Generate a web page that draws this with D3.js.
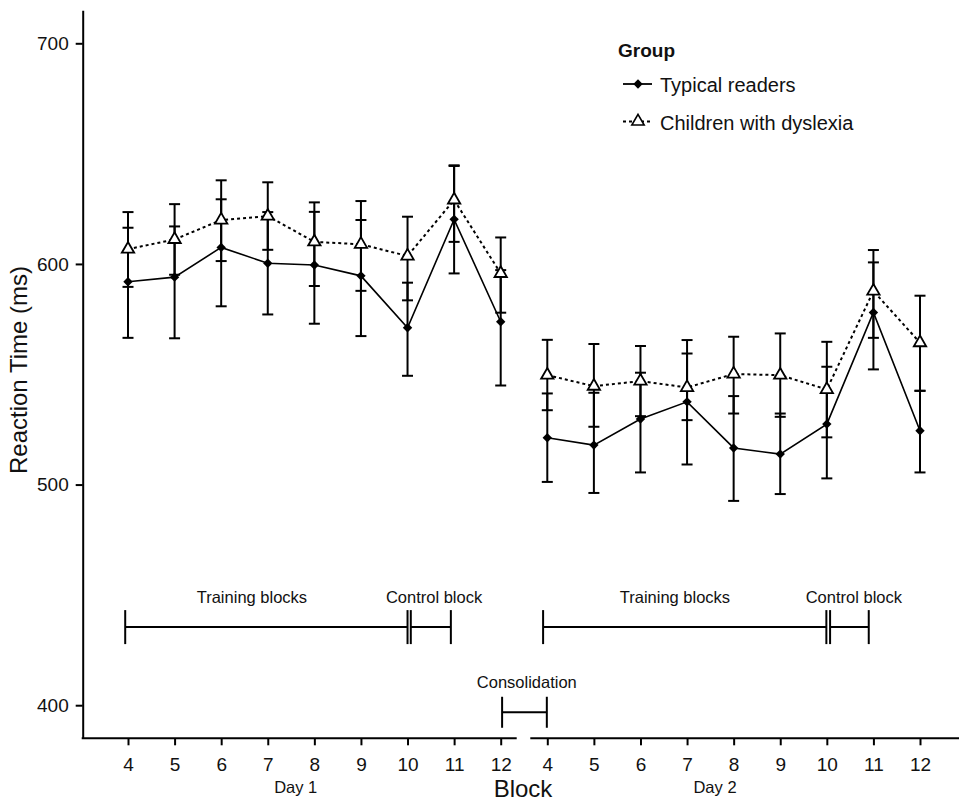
<!DOCTYPE html>
<html>
<head>
<meta charset="utf-8">
<script src="https://cdn.jsdelivr.net/npm/d3@7"></script>
<style>
  body { margin: 0; background: #fff; }
  svg { display: block; font-family: "Liberation Sans", Arial, sans-serif; }
</style>
</head>
<body>
<div id="chart"></div>
<script>
// Reaction time per block, two training days (block index 0..17 = Day 1 blocks 4-12, Day 2 blocks 4-12)
const blockLabels = ['4', '5', '6', '7', '8', '9', '10', '11', '12', '4', '5', '6', '7', '8', '9', '10', '11', '12'];
const dayOfBlock = [1, 1, 1, 1, 1, 1, 1, 1, 1, 2, 2, 2, 2, 2, 2, 2, 2, 2];

// Typical readers: mean, lower and upper error bar ends (ms)
const readersMean = [591.9, 594.0, 607.5, 600.3, 599.5, 594.6, 571.1, 620.2, 573.8,
                     521.2, 517.9, 529.7, 537.5, 516.6, 513.8, 527.4, 578.0, 524.4];
const readersLow  = [566.5, 566.3, 580.8, 577.1, 572.9, 567.3, 549.3, 595.7, 544.9,
                     501.2, 496.2, 505.5, 509.1, 492.6, 495.7, 502.8, 552.2, 505.5];
const readersHigh = [616.4, 617.0, 629.3, 623.5, 623.6, 619.9, 591.5, 644.7, 597.2,
                     541.3, 541.6, 550.7, 565.5, 540.1, 532.2, 553.4, 600.7, 542.5];

// Children with dyslexia
const dyslexiaMean = [606.7, 611.1, 619.9, 621.7, 610.0, 608.9, 603.6, 629.0, 595.7,
                      549.6, 544.6, 546.9, 544.0, 550.1, 549.6, 543.1, 587.7, 564.3];
const dyslexiaLow  = [589.6, 595.1, 601.3, 606.4, 590.0, 587.8, 583.5, 610.0, 577.9,
                      533.7, 526.2, 531.0, 529.2, 532.2, 530.7, 521.4, 566.5, 542.5];
const dyslexiaHigh = [623.5, 627.1, 637.9, 637.0, 627.9, 628.5, 621.4, 644.4, 612.0,
                      565.6, 563.7, 562.8, 559.4, 567.0, 568.5, 564.7, 606.3, 585.6];

const yTicks = [400, 500, 600, 700];

// Phase brackets (block index units, ms)
const bracketNames = ['Training blocks', 'Control block', 'Training blocks', 'Control block', 'Consolidation'];
const bracketStart = [-0.06, 6.07, 8.91, 15.07, 8.03];
const bracketEnd   = [6.0, 6.93, 14.99, 15.9, 8.99];
const bracketLevel = [435.4, 435.4, 435.4, 435.4, 396.8];
const bracketLabelAt = [2.66, 6.57, 11.74, 15.58, 8.56];

const dayNames = ['Day 1', 'Day 2'];
const dayCenter = [3.6, 12.6];

const width = 959, height = 802;

const svg = d3.select('#chart').append('svg')
  .attr('width', width)
  .attr('height', height);

const x = d3.scaleLinear().domain([0, 17]).range([128, 920]);
const y = d3.scaleLinear().domain([385, 715]).range([738.3, 10.2]);
const axisX = 82.7;

// Y axis
const yAxis = svg.append('g')
  .attr('transform', `translate(${axisX},0)`)
  .call(d3.axisLeft(y).tickValues(yTicks).tickSize(7).tickPadding(7).tickSizeOuter(0));
yAxis.select('.domain').attr('stroke', '#000').attr('stroke-width', 2);
yAxis.selectAll('.tick line').attr('stroke', '#000').attr('stroke-width', 2);
yAxis.selectAll('.tick text')
  .attr('font-size', '19px')
  .attr('font-family', '"Liberation Sans", Arial, sans-serif')
  .attr('fill', '#111');

// X axis (broken between the two days)
const xAxis = svg.append('g')
  .attr('transform', `translate(0,${y(385)})`)
  .call(d3.axisBottom(x).tickValues(d3.range(blockLabels.length))
    .tickFormat(i => blockLabels[i]).tickSize(7).tickPadding(12).tickSizeOuter(0));
xAxis.select('.domain').remove();
xAxis.selectAll('.tick line').attr('stroke', '#000').attr('stroke-width', 2);
xAxis.selectAll('.tick text')
  .attr('font-size', '19px')
  .attr('font-family', '"Liberation Sans", Arial, sans-serif')
  .attr('fill', '#111');

const gapL = x(8) + 16, gapR = x(9) - 17;
[[axisX - 1, gapL], [gapR, width]].forEach(([a, b]) => {
  svg.append('line')
    .attr('x1', a).attr('x2', b)
    .attr('y1', y(385)).attr('y2', y(385))
    .attr('stroke', '#000').attr('stroke-width', 2);
});

// Day labels and axis titles
dayNames.forEach((d, i) => {
  svg.append('text')
    .attr('x', x(dayCenter[i])).attr('y', 793)
    .attr('text-anchor', 'middle')
    .attr('font-size', '16.5px')
    .attr('fill', '#111')
    .text(d);
});

svg.append('text')
  .attr('x', 523).attr('y', 797)
  .attr('text-anchor', 'middle')
  .attr('font-size', '24px')
  .attr('fill', '#111')
  .text('Block');

svg.append('text')
  .attr('transform', 'translate(27,370) rotate(-90)')
  .attr('text-anchor', 'middle')
  .attr('font-size', '24px')
  .attr('fill', '#111')
  .text('Reaction Time (ms)');

// Phase brackets
bracketNames.forEach((name, i) => {
  const g = svg.append('g').attr('stroke', '#000').attr('stroke-width', 2);
  const by = y(bracketLevel[i]);
  const half = i === 4 ? 15.5 : 17;
  g.append('line').attr('x1', x(bracketStart[i])).attr('x2', x(bracketEnd[i]))
    .attr('y1', by).attr('y2', by);
  [bracketStart[i], bracketEnd[i]].forEach(v => {
    g.append('line').attr('x1', x(v)).attr('x2', x(v))
      .attr('y1', by - half).attr('y2', by + half);
  });
  svg.append('text')
    .attr('x', x(bracketLabelAt[i]))
    .attr('y', by - 24)
    .attr('text-anchor', 'middle')
    .attr('font-size', '16.5px')
    .attr('fill', '#111')
    .text(name);
});

// Series
const series = [
  { key: 'readers', mean: readersMean, low: readersLow, high: readersHigh, dash: null, width: 1.6 },
  { key: 'dyslexia', mean: dyslexiaMean, low: dyslexiaLow, high: dyslexiaHigh, dash: '3,3', width: 2 }
];

const capW = 5.5;
series.forEach(s => {
  const pts = s.mean.map((m, i) => ({ i, m, lo: s.low[i], hi: s.high[i], day: dayOfBlock[i] }));

  // error bars
  const eb = svg.append('g').attr('stroke', '#000').attr('stroke-width', 2);
  pts.forEach(p => {
    eb.append('line').attr('x1', x(p.i)).attr('x2', x(p.i)).attr('y1', y(p.lo)).attr('y2', y(p.hi));
    [p.lo, p.hi].forEach(v => {
      eb.append('line').attr('x1', x(p.i) - capW).attr('x2', x(p.i) + capW).attr('y1', y(v)).attr('y2', y(v));
    });
  });

  // lines, one per day
  const line = d3.line().x(d => x(d.i)).y(d => y(d.m));
  [1, 2].forEach(day => {
    svg.append('path')
      .datum(pts.filter(p => p.day === day))
      .attr('fill', 'none')
      .attr('stroke', '#000')
      .attr('stroke-width', s.width)
      .attr('stroke-dasharray', s.dash)
      .attr('d', line);
  });
});

// markers: square turned 45 degrees for readers, open triangle for dyslexia
const diamond = d3.symbol().type(d3.symbolSquare).size(44);
const triangle = d3.symbol().type(d3.symbolTriangle).size(66);

svg.append('g').selectAll('path')
  .data(dyslexiaMean)
  .join('path')
  .attr('transform', (d, i) => `translate(${x(i)},${y(d)})`)
  .attr('d', triangle)
  .attr('fill', '#fff')
  .attr('stroke', '#000')
  .attr('stroke-width', 1.8);

svg.append('g').selectAll('path')
  .data(readersMean)
  .join('path')
  .attr('transform', (d, i) => `translate(${x(i)},${y(d)}) rotate(45)`)
  .attr('d', diamond)
  .attr('fill', '#000');

// Legend
const legend = svg.append('g');
legend.append('text')
  .attr('x', 618).attr('y', 57)
  .attr('font-size', '19px').attr('font-weight', 'bold').attr('fill', '#111')
  .text('Group');

const legendItems = [
  { label: 'Typical readers', dash: null, sym: diamond, fill: '#000', rot: 45, y: 84 },
  { label: 'Children with dyslexia', dash: '3,3', sym: triangle, fill: '#fff', rot: 0, y: 121.5 }
];
legendItems.forEach(it => {
  legend.append('line')
    .attr('x1', 623).attr('x2', 652).attr('y1', it.y).attr('y2', it.y)
    .attr('stroke', '#000').attr('stroke-width', 1.8)
    .attr('stroke-dasharray', it.dash);
  legend.append('path')
    .attr('transform', `translate(638,${it.y}) rotate(${it.rot})`)
    .attr('d', it.sym)
    .attr('fill', it.fill)
    .attr('stroke', '#000')
    .attr('stroke-width', it.fill === '#fff' ? 1.6 : 0);
  legend.append('text')
    .attr('x', 660).attr('y', it.y + 8)
    .attr('font-size', '20px').attr('fill', '#111')
    .text(it.label);
});
</script>
</body>
</html>
